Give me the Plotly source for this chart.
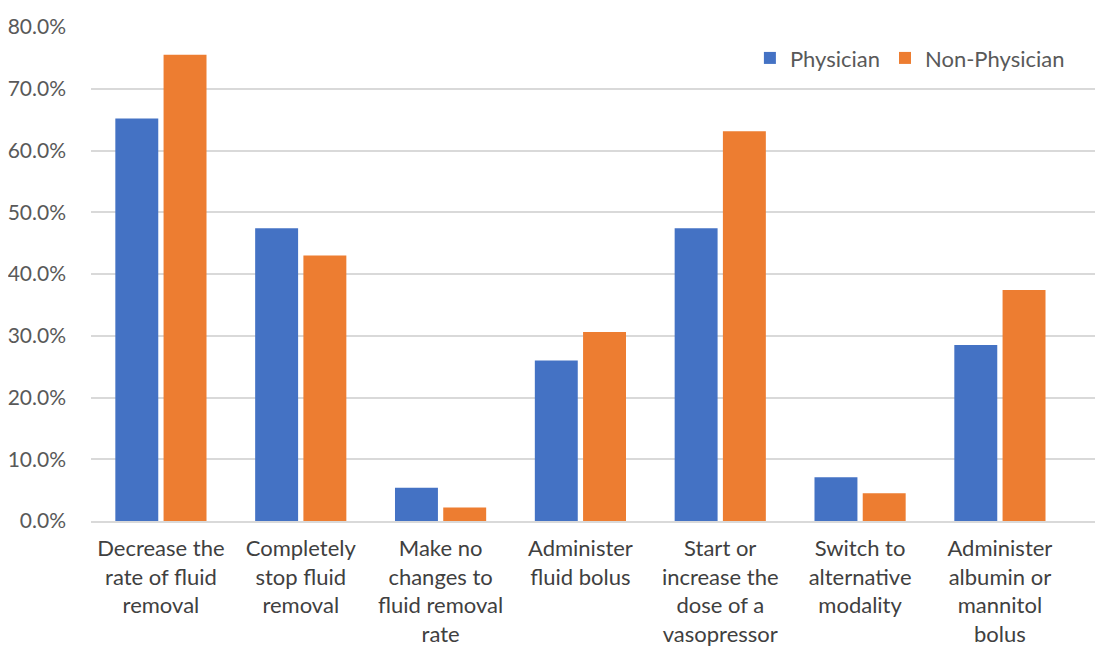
import plotly.graph_objects as go

categories = [
    "Decrease the<br>rate of fluid<br>removal",
    "Completely<br>stop fluid<br>removal",
    "Make no<br>changes to<br>fluid removal<br>rate",
    "Administer<br>fluid bolus",
    "Start or<br>increase the<br>dose of a<br>vasopressor",
    "Switch to<br>alternative<br>modality",
    "Administer<br>albumin or<br>mannitol<br>bolus",
]
physician = [0.652, 0.474, 0.054, 0.260, 0.474, 0.071, 0.285]
non_physician = [0.755, 0.430, 0.022, 0.306, 0.631, 0.045, 0.374]
y_ticks = [0, 0.1, 0.2, 0.3, 0.4, 0.5, 0.6, 0.7, 0.8]

W, H = 1103, 648
left, right, top, bottom = 83, 16, 19, 135

fig = go.Figure()
fig.add_trace(go.Bar(name="Physician", x=categories, y=physician,
                     marker=dict(color="#4472C4", line=dict(width=0))))
fig.add_trace(go.Bar(name="Non-Physician", x=categories, y=non_physician,
                     marker=dict(color="#ED7D31", line=dict(width=0))))

font_family = "Lato, 'Open Sans', sans-serif"
fig.update_layout(
    width=W, height=H,
    margin=dict(l=left, r=right, t=top, b=bottom, pad=0, autoexpand=False),
    paper_bgcolor="white", plot_bgcolor="white",
    barmode="group", bargap=0.31, bargroupgap=0.11,
    font=dict(family=font_family, size=21, color="#595959"),
    showlegend=True,
    legend=dict(orientation="h", x=0.975, xanchor="right", y=0.937, yanchor="middle",
                font=dict(size=22, color="#595959"), bgcolor="rgba(0,0,0,0)",
                itemwidth=30, traceorder="normal"),
    xaxis=dict(range=[-0.5, 6.68], showgrid=False, showline=True, automargin=False,
               linecolor="#D9D9D9", linewidth=1.5, ticks="",
               tickfont=dict(size=22, color="#404040"), ticklabelstandoff=7),
    yaxis=dict(range=[0, 0.8], tickvals=y_ticks, tickformat=".1%", automargin=False,
               showgrid=True, gridcolor="#D9D9D9", gridwidth=1.5,
               zeroline=False, showline=False, ticks="",
               tickfont=dict(size=21, color="#595959"), ticklabelstandoff=24),
)

fig.write_html("out.html")
